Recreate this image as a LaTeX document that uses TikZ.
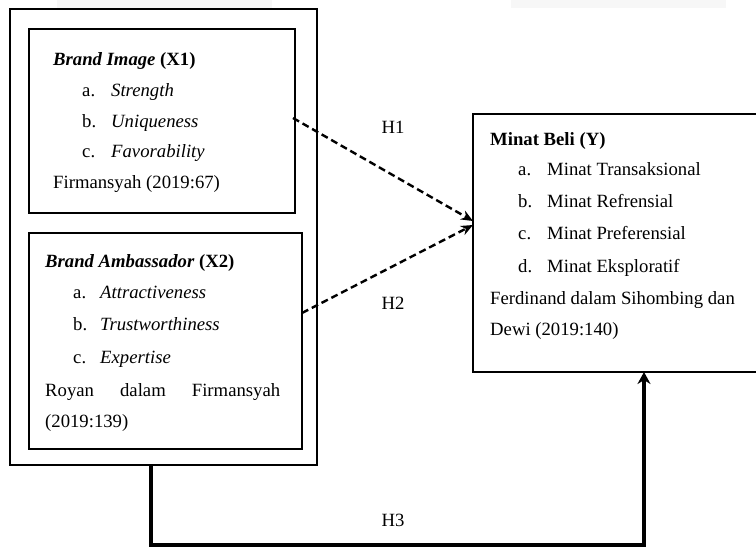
\documentclass[tikz,border=0pt]{standalone}
\usepackage{fontspec}
\setmainfont{Liberation Serif}
\usetikzlibrary{arrows.meta,calc}
\begin{document}
\begin{tikzpicture}[x=1pt,y=-1pt,
  box/.style={draw=black,line width=2.4pt,rectangle,anchor=north west,inner sep=0pt,outer sep=0pt},
  txt/.style={anchor=base west,inner sep=0pt,font=\fontsize{18.7}{22}\selectfont},
  hlab/.style={anchor=center,inner sep=0pt,font=\fontsize{18.7}{22}\selectfont},
  dasharrow/.style={line width=2.4pt,dash pattern=on 7pt off 4pt,-{Stealth[length=12pt,width=10pt]}},
  solidarrow/.style={line width=3.2pt,-{Stealth[length=12pt,width=13pt]}}]
\useasboundingbox (0,0) rectangle (756,548);
\fill[black!3] (57,0) rectangle (272,8);
\fill[black!3] (511,0) rectangle (726,8);
% boxes
\node[box,minimum width=307pt,minimum height=456pt] (outer) at (10,9) {};
\node[box,minimum width=266pt,minimum height=184pt] (b1) at (29,29) {};
\node[box,minimum width=273pt,minimum height=216pt] (b2) at (29,233) {};
\node[box,minimum width=307pt,minimum height=258pt] (b3) at (473,114) {};
% box 1 text
\node[txt] (t1) at (53,66) {\textbf{\textit{Brand Image}} \textbf{(X1)}};
\node[txt] (t1a) at (82,97) {a.};
\node[txt] (t1at) at (111,97) {\textit{Strength}};
\node[txt] (t1b) at (82,128) {b.};
\node[txt] (t1bt) at (111,128) {\textit{Uniqueness}};
\node[txt] (t1c) at (82,158) {c.};
\node[txt] (t1ct) at (111,158) {\textit{Favorability}};
\node[txt] (t1s) at (53,189) {Firmansyah (2019:67)};
% box 2 text
\node[txt] (t2) at (45,268) {\textbf{\textit{Brand Ambassador}} \textbf{(X2)}};
\node[txt] (t2a) at (73,299) {a.};
\node[txt] (t2at) at (100,299) {\textit{Attractiveness}};
\node[txt] (t2b) at (73,331) {b.};
\node[txt] (t2bt) at (100,331) {\textit{Trustworthiness}};
\node[txt] (t2c) at (73,363) {c.};
\node[txt] (t2ct) at (100,363) {\textit{Expertise}};
\node[txt] (t2s) at (45,396) {\makebox[235pt][s]{Royan\hfill dalam\hfill Firmansyah}};
\node[txt] (t2s2) at (45,428) {(2019:139)};
% box 3 text
\node[txt] (t3) at (490,146) {\textbf{Minat Beli (Y)}};
\node[txt] (t3a) at (518,176) {a.};
\node[txt] (t3at) at (547,176) {Minat Transaksional};
\node[txt] (t3b) at (518,208) {b.};
\node[txt] (t3bt) at (547,208) {Minat Refrensial};
\node[txt] (t3c) at (518,240) {c.};
\node[txt] (t3ct) at (547,240) {Minat Preferensial};
\node[txt] (t3d) at (518,273) {d.};
\node[txt] (t3dt) at (547,273) {Minat Eksploratif};
\node[txt] (t3s) at (490,305) {Ferdinand dalam Sihombing dan};
\node[txt] (t3s2) at (490,336) {Dewi (2019:140)};
% hypothesis labels
\node[hlab] (h1) at (393,127) {H1};
\node[hlab] (h2) at (393,303) {H2};
\node[hlab] (h3) at (393,520) {H3};
% connectors
\coordinate (h1s) at ($(b1.north east)+(-2,89)$);
\coordinate (h1e) at ($(b3.north west)+(0,107)$);
\coordinate (h2s) at ($(b2.north east)+(0,80)$);
\coordinate (h2e) at ($(b3.north west)+(0,111)$);
\draw[dasharrow] (h1s) -- (h1e);
\draw[dasharrow] (h2s) -- (h2e);
\coordinate (h3s) at (outer.south west -| 151,0);
\coordinate (h3e) at (b3.south west -| 644,0);
\draw[solidarrow] (h3s) -- ++(0,80) -| (h3e);
\end{tikzpicture}
\end{document}
